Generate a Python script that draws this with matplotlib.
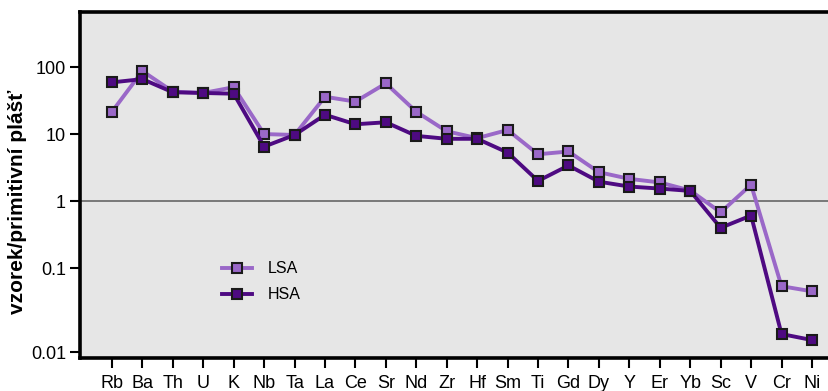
import numpy as np
import matplotlib
matplotlib.use("Agg")
import matplotlib.pyplot as plt

plt.rcParams['font.family'] = ['Liberation Sans', 'DejaVu Sans']

elements = ['Rb', 'Ba', 'Th', 'U', 'K', 'Nb', 'Ta', 'La', 'Ce', 'Sr', 'Nd', 'Zr',
            'Hf', 'Sm', 'Ti', 'Gd', 'Dy', 'Y', 'Er', 'Yb', 'Sc', 'V', 'Cr', 'Ni']

lsa = [21.5, 87, 43, 41, 50, 10, 9.7, 36, 30.5, 57, 21.5, 11,
       8.7, 11.5, 5.0, 5.5, 2.7, 2.15, 1.9, 1.44, 0.68, 1.76, 0.061, 0.053]
hsa = [59, 66, 42, 41, 40, 6.5, 9.7, 19.4, 14, 15, 9.4, 8.5,
       8.5, 5.3, 2.0, 3.4, 1.95, 1.65, 1.54, 1.42, 0.40, 0.61, 0.0164, 0.0139]

lsa_color = '#9a68c8'
hsa_color = '#4e0a82'


# log axis whose lowest decade (0.01-0.1) is drawn a bit taller
def fwd(y):
    l = np.log10(np.maximum(np.asarray(y, dtype=float), 1e-12))
    return np.where(l >= -1, l, -1 + (l + 1) * 1.25)


def inv(p):
    p = np.asarray(p, dtype=float)
    return np.where(p >= -1, 10 ** p, 10 ** (-1 + (p + 1) / 1.25))


fig = plt.figure(figsize=(8.29, 3.91), dpi=100)
ax = fig.add_axes([80 / 829, 1 - 358 / 391, 1 - 80 / 829, 346 / 391])
ax.set_facecolor('#e6e6e6')
ax.set_yscale('function', functions=(fwd, inv))

x = np.arange(len(elements))
ax.axhline(1, color='#707070', linewidth=1.3, zorder=1)

ax.plot(x, lsa, color=lsa_color, linewidth=2.8, marker='s', markersize=7.5,
        markerfacecolor=lsa_color, markeredgecolor='#1a1a1a', markeredgewidth=1.5,
        label='LSA', zorder=3)
ax.plot(x, hsa, color=hsa_color, linewidth=2.8, marker='s', markersize=7.5,
        markerfacecolor=hsa_color, markeredgecolor='#1a1a1a', markeredgewidth=1.5,
        label='HSA', zorder=4)

ax.set_xlim(-1.05, 23.56)
ax.set_ylim(0.00849, 661)

yticks = [0.01, 0.1, 1, 10, 100]
ax.set_yticks(yticks)
ax.set_yticklabels(['0.01', '0.1', '1', '10', '100'])
ax.yaxis.set_minor_locator(matplotlib.ticker.NullLocator())
ax.set_xticks(x)
ax.set_xticklabels(elements)

ax.tick_params(axis='both', direction='out', length=7, width=1.5,
               labelsize=13, color='black', pad=4)
ax.tick_params(axis='x', pad=5)
ax.tick_params(axis='y', pad=3)

for side in ['left', 'bottom', 'top']:
    ax.spines[side].set_linewidth(2.6)
    ax.spines[side].set_color('black')
ax.spines['right'].set_visible(False)

ax.set_ylabel('vzorek/primitivní plášť', fontsize=15, fontweight='bold')
ax.yaxis.set_label_coords(-0.071, 0.45)

ax.legend(frameon=False, loc='center left', bbox_to_anchor=(0.17, 0.22),
          fontsize=11.5, handlelength=1.9, labelspacing=0.7, handletextpad=1.0)

fig.savefig('out.png', dpi=100)
